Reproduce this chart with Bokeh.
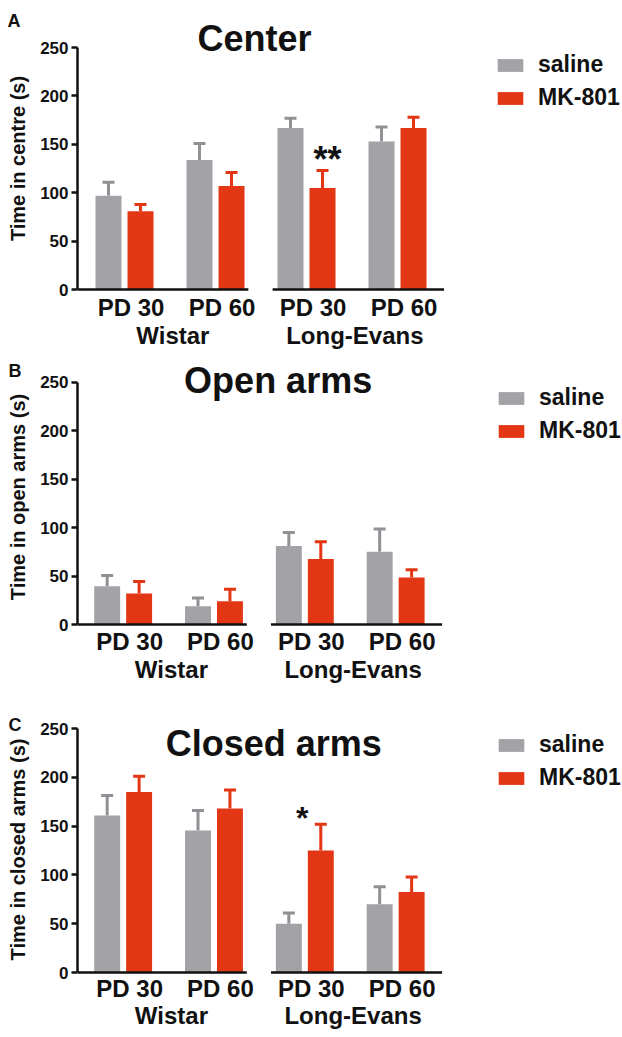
from bokeh.plotting import figure
from bokeh.models import (Range1d, FixedTicker, Label, Legend, LegendItem, Whisker,
                          ColumnDataSource, TeeHead, LinearAxis)
from bokeh.layouts import column
from bokeh.embed import file_html
from bokeh.resources import INLINE
import numpy as np

# ---------------- data ----------------
groups = ["PD 30", "PD 60", "PD 30", "PD 60"]
strains = ["Wistar", "Long-Evans"]
treatments = ["saline", "MK-801"]

center_saline = [97, 134, 167, 153]
center_saline_sem = [14, 17, 10, 15]
center_mk = [81, 107, 105, 167]
center_mk_sem = [7, 14, 18, 11]

open_saline = [39.5, 19, 81, 75]
open_saline_sem = [11, 8.5, 14, 23.5]
open_mk = [32, 24, 67.5, 48.5]
open_mk_sem = [12.5, 12.5, 18, 8]

closed_saline = [161, 145.5, 50, 70]
closed_saline_sem = [20.5, 20.5, 11, 18]
closed_mk = [185, 168, 125, 82.5]
closed_mk_sem = [16, 19, 27, 15.5]

y_ticks = [0, 50, 100, 150, 200, 250]

# ---------------- style ----------------
FONT = "Liberation Sans"
GRAY = "#a2a2a7"
GRAY_ERR = "#909095"
RED = "#e33614"
INK = "#111111"
PX = 91.0          # pixels per group
BAR_W = 26 / PX
HALF = 16 / PX
SHIFT = -6.5 / PX
W = 622

panels = [
    dict(letter="A", title="Center", ylabel="Time in centre (s)",
         sal=center_saline, sal_e=center_saline_sem, mk=center_mk, mk_e=center_mk_sem,
         height=352, top=24, bottom=60, left=77, xstart=-0.588, ystart=-3, ppu=0.968,
         letter_standoff=-12, title_x=1.357, title_y=259.8, leg=(417, 181),
         so=(1, -2), sig=[("**", 2.16, 134, 36)]),
    dict(letter="B", title="Open arms", ylabel="Time in open arms (s)",
         sal=open_saline, sal_e=open_saline_sem, mk=open_mk, mk_e=open_mk_sem,
         height=335, top=14, bottom=60, left=76, xstart=-0.574, ystart=-3, ppu=0.970,
         letter_standoff=-28, title_x=1.635, title_y=252.0, leg=(418, 183),
         so=(0, -2), sig=[]),
    dict(letter="C", title="Closed arms", ylabel="Time in closed arms (s)",
         sal=closed_saline, sal_e=closed_saline_sem, mk=closed_mk, mk_e=closed_mk_sem,
         height=350, top=37, bottom=63, left=76, xstart=-0.574, ystart=-2, ppu=0.976,
         letter_standoff=-20, title_x=1.587, title_y=235.0, leg=(418, 183),
         so=(0, -3), sig=[("*", 1.90, 158, 32)]),
]

figs = []
for pn in panels:
    xstart = pn["xstart"]
    xend = xstart + (W - pn["left"]) / PX
    frame_h = pn["height"] - pn["top"] - pn["bottom"]
    yend = pn["ystart"] + frame_h / pn["ppu"]
    p = figure(width=W, height=pn["height"], output_backend="svg", toolbar_location=None,
               x_range=Range1d(xstart, xend), y_range=Range1d(pn["ystart"], yend),
               min_border_top=pn["top"], min_border_bottom=pn["bottom"],
               min_border_left=pn["left"], min_border_right=0)
    p.outline_line_color = None
    p.grid.visible = False
    p.background_fill_color = "white"
    p.border_fill_color = "white"

    # panel letter as the figure title
    p.title.text = pn["letter"]
    p.title.align = "left"
    p.title.offset = 7 - pn["left"]
    p.title.standoff = pn["letter_standoff"]
    p.title.text_font = FONT
    p.title.text_font_style = "bold"
    p.title.text_font_size = "18px"
    p.title.text_color = INK

    idx = np.arange(len(groups))
    src_s = ColumnDataSource(dict(x=idx + SHIFT - HALF, top=pn["sal"],
                                  up=np.array(pn["sal"]) + np.array(pn["sal_e"])))
    src_m = ColumnDataSource(dict(x=idx + SHIFT + HALF, top=pn["mk"],
                                  up=np.array(pn["mk"]) + np.array(pn["mk_e"])))
    r_s = p.vbar(x="x", top="top", bottom=0, width=BAR_W, source=src_s,
                 fill_color=GRAY, line_color=None)
    r_m = p.vbar(x="x", top="top", bottom=0, width=BAR_W, source=src_m,
                 fill_color=RED, line_color=None)
    for src, col in ((src_s, GRAY_ERR), (src_m, RED)):
        wk = Whisker(base="x", lower="top", upper="up", source=src, dimension="height",
                     line_color=col, line_width=3,
                     upper_head=TeeHead(size=12, line_color=col, line_width=3),
                     lower_head=None)
        p.add_layout(wk)

    # broken x-axis baseline
    p.segment(x0=[xstart, 1.556], x1=[1.29, 3.44], y0=[0, 0], y1=[0, 0],
              line_color=INK, line_width=2.5)

    # y axis
    ya = p.yaxis[0]
    ya.ticker = FixedTicker(ticks=y_ticks)
    ya.bounds = (0, 250)
    ya.axis_line_width = 2.5
    ya.axis_line_color = INK
    ya.major_tick_line_width = 2.5
    ya.major_tick_line_color = INK
    ya.major_tick_out = 6
    ya.major_tick_in = 0
    ya.minor_tick_line_color = None
    ya.major_label_text_font = FONT
    ya.major_label_text_font_style = "bold"
    ya.major_label_text_font_size = "17px"
    ya.major_label_text_color = INK
    ya.major_label_standoff = 3
    ya.axis_label = pn["ylabel"]
    ya.axis_label_text_font = FONT
    ya.axis_label_text_font_style = "bold"
    ya.axis_label_text_font_size = "20px"
    ya.axis_label_text_color = INK
    ya.axis_label_standoff = 8

    # x axis (group labels)
    xa = p.xaxis[0]
    xa.ticker = FixedTicker(ticks=list(range(len(groups))))
    xa.major_label_overrides = {i: g for i, g in enumerate(groups)}
    # strain axis
    strain_pos = [round(float(np.mean([2 * k, 2 * k + 1])) - 0.04, 3) for k in range(len(strains))]
    xa2 = LinearAxis(ticker=FixedTicker(ticks=strain_pos),
                     major_label_overrides={sp: s for sp, s in zip(strain_pos, strains)})
    p.add_layout(xa2, "below")
    for ax, so in ((xa, pn["so"][0]), (xa2, pn["so"][1])):
        ax.axis_line_color = None
        ax.major_tick_line_color = None
        ax.minor_tick_line_color = None
        ax.major_tick_out = 0
        ax.major_tick_in = 0
        ax.major_label_standoff = so
        ax.major_label_text_font = FONT
        ax.major_label_text_font_style = "bold"
        ax.major_label_text_font_size = "24px"
        ax.major_label_text_color = INK

    # panel heading inside the frame
    p.add_layout(Label(x=pn["title_x"], y=pn["title_y"], text=pn["title"],
                       text_align="center", text_baseline="alphabetic",
                       text_font=FONT, text_font_style="bold",
                       text_font_size="36px", text_color=INK))

    for txt, sx, sy, fs in pn["sig"]:
        p.add_layout(Label(x=sx, y=sy, text=txt, text_align="center",
                           text_baseline="alphabetic", text_font=FONT,
                           text_font_style="bold", text_font_size=f"{fs}px",
                           text_color=INK))

    leg = Legend(items=[LegendItem(label=treatments[0], renderers=[r_s]),
                        LegendItem(label=treatments[1], renderers=[r_m])],
                 location=pn["leg"], orientation="vertical",
                 glyph_width=32, glyph_height=16, label_standoff=12, spacing=6,
                 padding=0, margin=0, border_line_color=None,
                 background_fill_alpha=0,
                 label_text_font=FONT, label_text_font_style="bold",
                 label_text_font_size="23px", label_text_color=INK)
    p.add_layout(leg)
    figs.append(p)

layout = column(*figs, spacing=0)
open("out.html", "w").write(file_html(layout, INLINE))
